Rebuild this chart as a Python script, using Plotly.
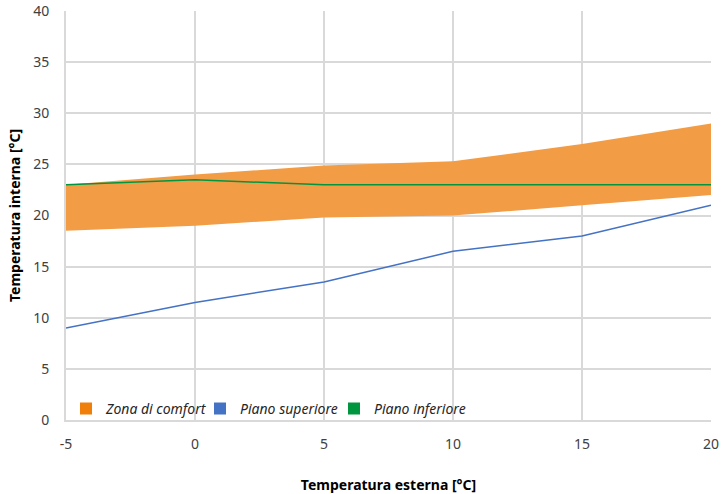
import plotly.graph_objects as go

# temperature esterna [°C]
t_est = [-5, 0, 5, 10, 15, 20]
t_labels = ["-5", "0", "5", "10", "15", "20"]
# comfort band
comfort_min = [18.5, 19.0, 19.8, 20.0, 21.0, 22.0]
comfort_max = [23.0, 24.0, 24.9, 25.3, 27.0, 29.0]
# internal temperatures
piano_superiore = [9.0, 11.5, 13.5, 16.5, 18.0, 21.0]
piano_inferiore = [23.0, 23.5, 23.0, 23.0, 23.0, 23.0]

ORANGE_FILL = "#F29C46"
ORANGE = "#F07F09"
BLUE = "#4472C4"
GREEN = "#00963F"
FONT = "Noto Sans"

fig = go.Figure()

# band: lower edge then upper edge filled to it
fig.add_trace(go.Scatter(x=t_est, y=comfort_min, mode="lines", line=dict(width=0),
                         showlegend=False, hoverinfo="skip"))
fig.add_trace(go.Scatter(x=t_est, y=comfort_max, mode="lines", line=dict(width=0),
                         fill="tonexty", fillcolor=ORANGE_FILL, showlegend=False))

fig.add_trace(go.Scatter(x=t_est, y=piano_superiore, mode="lines",
                         line=dict(color=BLUE, width=1.5), showlegend=False))
fig.add_trace(go.Scatter(x=t_est, y=piano_inferiore, mode="lines",
                         line=dict(color=GREEN, width=1.5), showlegend=False))

# legend entries with square swatches
for name, col in [("Zona di comfort", ORANGE), ("Piano superiore", BLUE), ("Piano inferiore", GREEN)]:
    fig.add_trace(go.Scatter(x=[None], y=[None], mode="markers", name=name,
                             marker=dict(symbol="square", size=12, color=col)))

fig.update_layout(
    width=722, height=494,
    margin=dict(l=66, r=11, t=11, b=74),
    paper_bgcolor="white", plot_bgcolor="white",
    font=dict(family=FONT, size=14, color="#404040"),
    legend=dict(orientation="h", x=0, y=-0.012, xanchor="left", yanchor="bottom",
                traceorder="normal", bgcolor="rgba(0,0,0,0)",
                font=dict(size=14, color="#262626", style="italic"),
                itemwidth=30, entrywidth=89, entrywidthmode="pixels"),
)
fig.update_xaxes(range=[-5, 20], tickvals=t_est, ticktext=t_labels, automargin=False,
                 showgrid=True, gridcolor="#D9D9D9", gridwidth=1.5,
                 zeroline=False, showline=True, linecolor="#D9D9D9", linewidth=2,
                 ticks="", ticklabelstandoff=10,
                 title=dict(text="<b>Temperatura esterna [°C]</b>", standoff=33,
                            font=dict(size=14, color="#000000")))
fig.update_yaxes(range=[0, 40], dtick=5, automargin=False,
                 showgrid=True, gridcolor="#D9D9D9", gridwidth=1.5,
                 zeroline=False, showline=True, linecolor="#D9D9D9", linewidth=2,
                 ticks="", ticklabelstandoff=12,
                 title=dict(text="<b>Temperatura interna [°C]</b>", standoff=9,
                            font=dict(size=14, color="#000000")))

# page body margin would shift the figure by 8px
fig.write_html("out.html", config={"displayModeBar": False},
               post_script="document.body.style.margin='0';")
